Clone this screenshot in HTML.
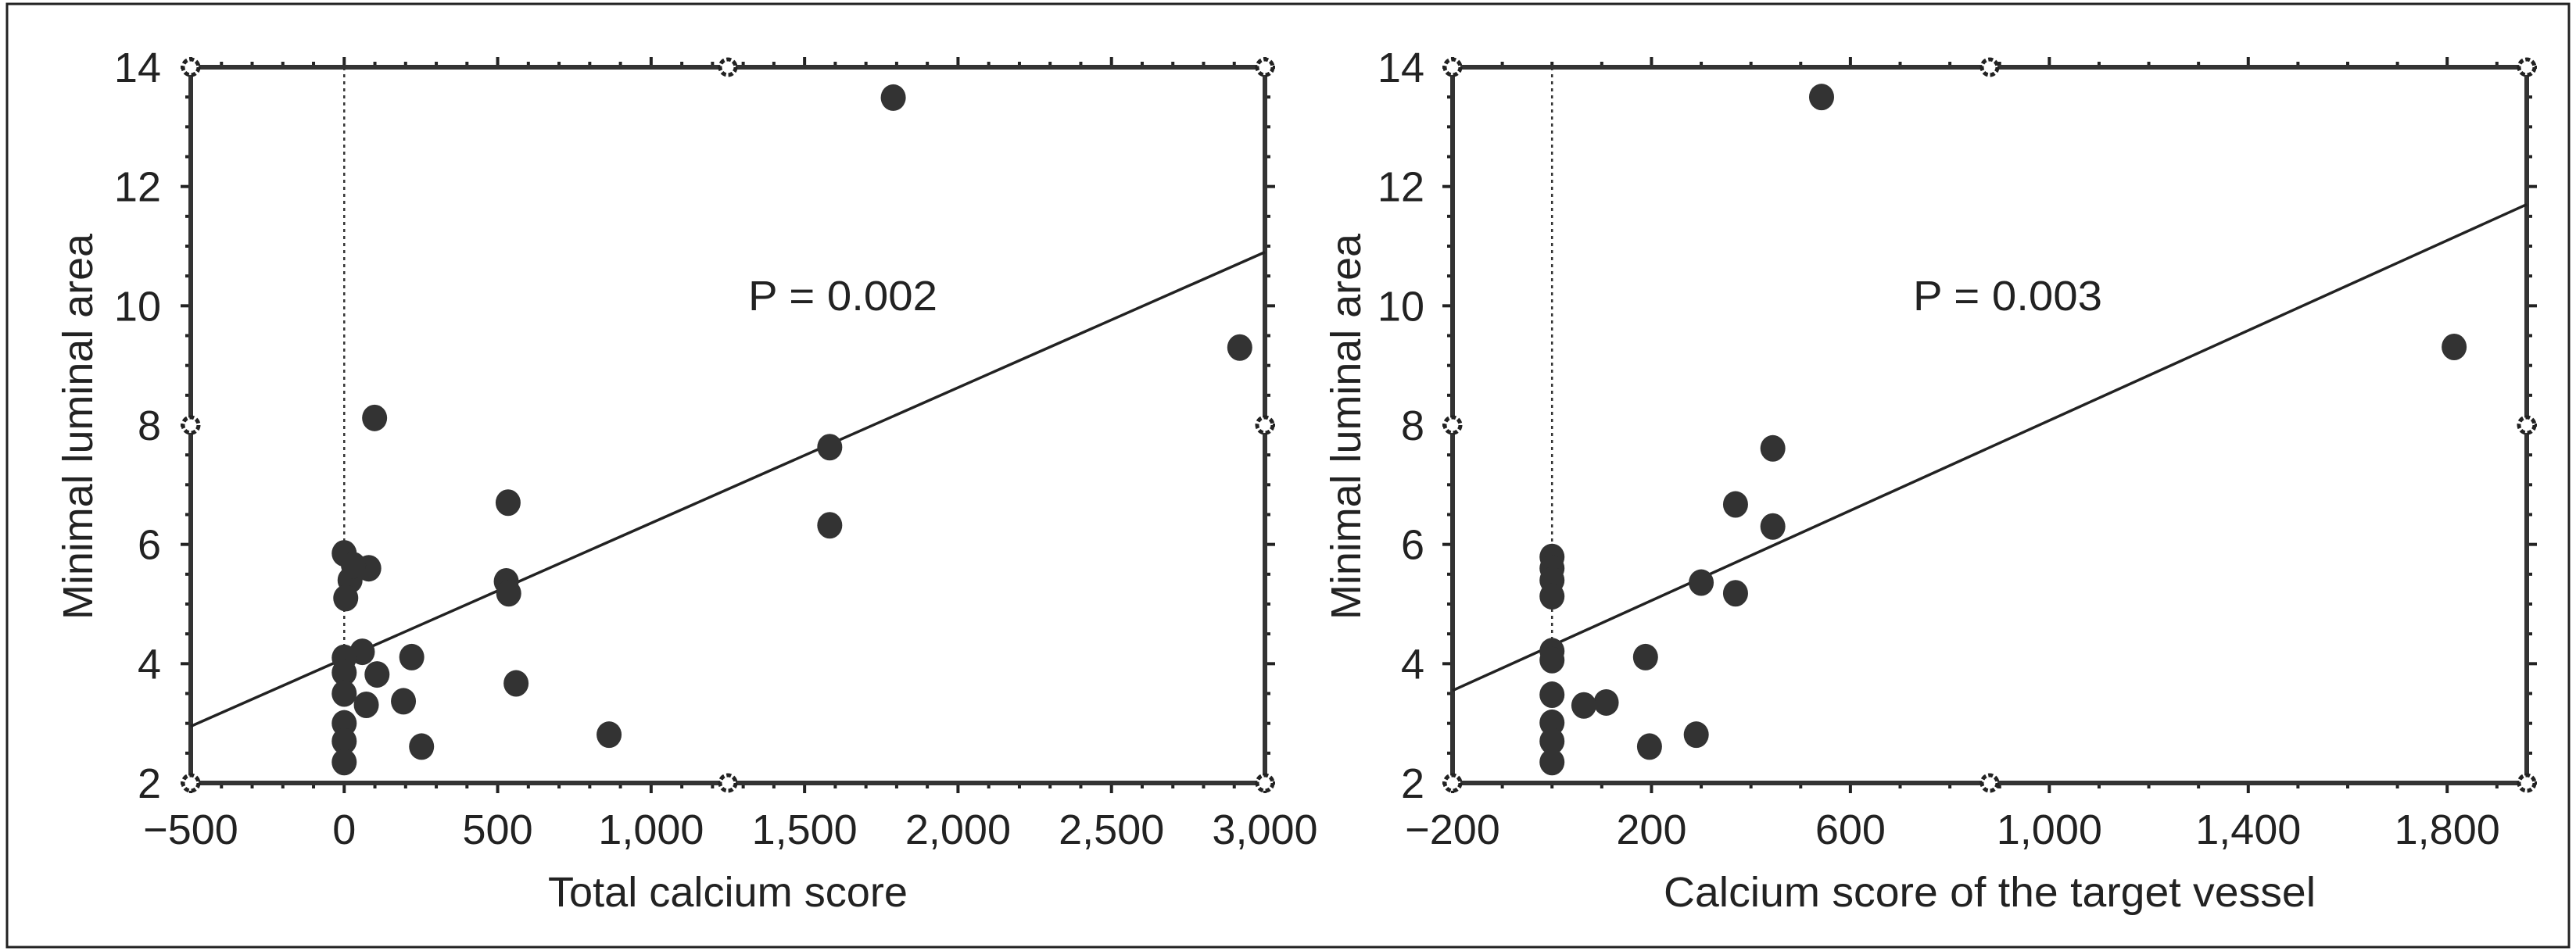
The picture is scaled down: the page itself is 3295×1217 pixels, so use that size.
<!DOCTYPE html>
<html><head><meta charset="utf-8"><style>
html,body{margin:0;padding:0;background:#fff;}
svg{display:block;font-family:"Liberation Sans",Arial,sans-serif;}
</style></head><body>
<svg id="fig" width="3295" height="1217" viewBox="0 0 3295 1217">
<rect x="9" y="5" width="3277" height="1207" fill="none" stroke="#222" stroke-width="3"/>
</svg>
<script>
// Left panel data
const leftX = [1789,2918,99,1582,1582,534,528,536,560,863,252,220,193,107,72,59,0,80,19,5,30,0,0,0,0,0,0];
const leftY = [13.49,9.30,8.12,7.63,6.32,6.70,5.38,5.18,3.67,2.81,2.61,4.11,3.37,3.82,3.31,4.2,5.85,5.6,5.4,5.1,5.65,4.1,3.85,3.5,3.0,2.7,2.35];
const leftXTicks = [-500,0,500,1000,1500,2000,2500,3000];
const leftXTickLabels = ["\u2212500","0","500","1,000","1,500","2,000","2,500","3,000"];
const leftFit = [[-500,2.95],[3000,10.9]];
// Right panel data
const rightX = [542,1814,444,369,444,300,369,188,109,64,196,290,0,0,0,0,0,0,0,0,0,0];
const rightY = [13.5,9.31,7.61,6.67,6.30,5.36,5.18,4.11,3.35,3.30,2.61,2.81,5.79,5.6,5.4,5.13,4.21,4.06,3.48,3.01,2.70,2.35];
const rightXTicks = [-200,200,600,1000,1400,1800];
const rightXTickLabels = ["\u2212200","200","600","1,000","1,400","1,800"];
const rightFit = [[-200,3.55],[1960,11.7]];
const yTicks = [2,4,6,8,10,12,14];
const yTickLabels = ["2","4","6","8","10","12","14"];

const NS = "http://www.w3.org/2000/svg";
const svg = document.getElementById('fig');
function mk(tag, attrs, parent){
  const e = document.createElementNS(NS, tag);
  for (const k in attrs) e.setAttribute(k, attrs[k]);
  (parent||svg).appendChild(e);
  return e;
}

function panel(cfg){
  const g = mk('g', {});
  
  
  const L=cfg.L, R=cfg.R, T=86, B=1002;
  const sx = v => L + (v - cfg.xmin)/(cfg.xmax-cfg.xmin)*(R-L);
  const sy = v => B - (v - 2)/12*(B-T);
  for (let v = cfg.xmin; v <= cfg.xmax+0.01; v += cfg.xminor){
    const major = cfg.xticks.some(t => Math.abs(t-v)<1e-6);
    const len = major ? 13 : 7;
    const x = sx(v);
    const t1 = mk('line',{x1:x,y1:B,x2:x,y2:B+len,stroke:'#222','stroke-width':4},g);
    
    
    const t2 = mk('line',{x1:x,y1:T,x2:x,y2:T-len,stroke:'#222','stroke-width':4},g);
    
    
  }
  for (let v = 2; v <= 14.001; v += 0.5){
    const major = Math.abs(v - Math.round(v/2)*2) < 1e-6;
    const len = major ? 13 : 7;
    const y = sy(v);
    const t1 = mk('line',{x1:L,y1:y,x2:L-len,y2:y,stroke:'#222','stroke-width':4},g);
    
    
    const t2 = mk('line',{x1:R,y1:y,x2:R+len,y2:y,stroke:'#222','stroke-width':4},g);
    
    
  }
  const fr = mk('rect',{x:L,y:T,width:R-L,height:B-T,fill:'none',stroke:'#333','stroke-width':6},g);
  
  
  const marks = [[L,T],[R,T],[L,B],[R,B],[(L+R)/2,T],[(L+R)/2,B],[L,(T+B)/2],[R,(T+B)/2]];
  marks.forEach(m=>{
    const c = mk('circle',{cx:m[0],cy:m[1],r:10,fill:'#fff',stroke:'#222','stroke-width':5,'stroke-dasharray':'6 3'},g);
    
    
  });
  const z = mk('line',{x1:sx(0),y1:T,x2:sx(0),y2:sy(4.2),stroke:'#333','stroke-width':2.5,'stroke-dasharray':'4 5'},g);
  
  
  const f = mk('line',{x1:sx(cfg.fit[0][0]),y1:sy(cfg.fit[0][1]),x2:sx(cfg.fit[1][0]),y2:sy(cfg.fit[1][1]),stroke:'#222','stroke-width':3.5},g);
  
  
  cfg.xs.forEach((xv,i)=>{
    const p = mk('ellipse',{cx:sx(xv),cy:sy(cfg.ys[i]),rx:16,ry:17,fill:'#333'},g);
    
    
  });
  cfg.xticks.forEach((v,i)=>{
    const t = mk('text',{x:sx(v),y:1080,'font-size':54,'text-anchor':'middle',fill:'#222'},g);
    t.textContent = cfg.xlabels[i];
    
    
  });
  yTicks.forEach((v,i)=>{
    const t = mk('text',{x:cfg.ylabX,y:sy(v)+19,'font-size':54,'text-anchor':'end',fill:'#222'},g);
    t.textContent = yTickLabels[i];
    
    
  });
  const xt = mk('text',{x:(L+R)/2,y:1160,'font-size':54,'text-anchor':'middle',fill:'#222',textLength:cfg.xtLen,lengthAdjust:'spacingAndGlyphs'},g);
  xt.textContent = cfg.xtitle;
  
  
  const yt = mk('text',{x:0,y:0,'font-size':54,'text-anchor':'middle',fill:'#222',textLength:494,lengthAdjust:'spacingAndGlyphs',transform:`translate(${cfg.ytX},546) rotate(-90)`},g);
  yt.textContent = 'Minimal luminal area';
  
  
  const pt = mk('text',{x:cfg.pX,y:397,'font-size':54,'text-anchor':'middle',fill:'#222',textLength:242,lengthAdjust:'spacingAndGlyphs'},g);
  pt.textContent = cfg.p;
  
  
}

panel({name:'left-chart',L:244,R:1618,xmin:-500,xmax:3000,xminor:100,xticks:leftXTicks,xlabels:leftXTickLabels,
  xs:leftX,ys:leftY,fit:leftFit,ylabX:206,ytX:118,xtitle:'Total calcium score',xtLen:460,pX:1078,p:'P = 0.002'});
panel({name:'right-chart',L:1858,R:3232,xmin:-200,xmax:1960,xminor:100,xticks:rightXTicks,xlabels:rightXTickLabels,
  xs:rightX,ys:rightY,fit:rightFit,ylabX:1822,ytX:1740,xtitle:'Calcium score of the target vessel',xtLen:834,pX:2568,p:'P = 0.003'});
</script>
</body></html>
